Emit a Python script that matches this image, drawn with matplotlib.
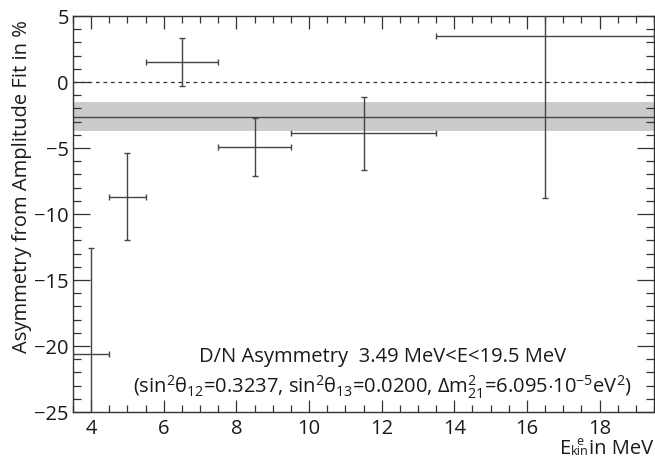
import matplotlib
matplotlib.use("Agg")
import matplotlib.pyplot as plt
from matplotlib.ticker import MultipleLocator

plt.rcParams['font.family'] = ['Open Sans', 'DejaVu Sans']
plt.rcParams['mathtext.fontset'] = 'custom'
plt.rcParams['mathtext.rm'] = 'Open Sans'
plt.rcParams['mathtext.it'] = 'Open Sans'
plt.rcParams['mathtext.sf'] = 'Open Sans'

# Energy bins (MeV): centres and half widths
energy = [4.0, 5.0, 6.5, 8.5, 11.5, 16.5]
energy_halfwidth = [0.5, 0.5, 1.0, 1.0, 2.0, 3.0]
# Day/Night asymmetry per bin (%) and its uncertainty
asym = [-20.6, -8.7, 1.5, -4.9, -3.9, 3.5]
asym_err = [8.0, 3.3, 1.8, 2.2, 2.75, 12.3]
# Combined fit over the full energy range
combined = -2.65
combined_err = 1.1

xmin, xmax = 3.5, 19.5
ymin, ymax = -25, 5
fs = 14.5
txt = '#1a1a1a'

W, H = 655, 460
fig = plt.figure(figsize=(W / 100, H / 100), dpi=100)
ax = fig.add_axes([0.1115, 0.1022, 0.887, 0.861])

ax.axhspan(combined - combined_err, combined + combined_err, color='#cbcbcb', lw=0, zorder=1)
ax.axhline(combined, color='#444444', lw=1.0, zorder=2)
ax.axhline(0, color='#333333', lw=0.9, ls=(0, (3, 3)), zorder=2)

ax.errorbar(energy, asym, xerr=energy_halfwidth, yerr=asym_err, fmt='none',
            ecolor='#444444', elinewidth=1.0, capsize=2.5, capthick=1.0, zorder=3)

ax.set_xlim(xmin, xmax)
ax.set_ylim(ymin, ymax)
ax.xaxis.set_major_locator(MultipleLocator(2))
ax.xaxis.set_minor_locator(MultipleLocator(0.5))
ax.yaxis.set_major_locator(MultipleLocator(5))
ax.yaxis.set_minor_locator(MultipleLocator(1))
ax.tick_params(axis='both', which='both', direction='in', top=True, right=True,
               color='#333333', width=0.9, labelsize=fs, labelcolor=txt)
ax.tick_params(axis='x', which='major', length=9, pad=4)
ax.tick_params(axis='x', which='minor', length=5)
ax.tick_params(axis='y', which='major', length=12, pad=3)
ax.tick_params(axis='y', which='minor', length=6)
for s in ax.spines.values():
    s.set_color('#333333')
    s.set_linewidth(1.0)

ax.set_ylabel('Asymmetry from Amplitude Fit in %', fontsize=fs, color=txt)
ax.yaxis.set_label_coords(-0.071, 0.992)
ax.yaxis.label.set_horizontalalignment('right')

# x-axis title: "E" with a compact stacked e / kin index, then "in MeV"
renderer = fig.canvas.get_renderer()
small = fs * 0.62
t_E = fig.text(0, 0, 'E', fontsize=fs, color=txt, va='baseline', ha='left')
t_idx = fig.text(0, 0, 'e\nkin', fontsize=small, color=txt, va='bottom', ha='left',
                 multialignment='center', linespacing=0.72)
t_rest = fig.text(0, 0, 'in MeV', fontsize=fs, color=txt, va='baseline', ha='left')
wE = t_E.get_window_extent(renderer).width
wI = t_idx.get_window_extent(renderer).width
wR = t_rest.get_window_extent(renderer).width
right_px = 653
x0 = right_px - (wE + wI + wR)
base_main = H - 454
t_E.set_position((x0 / W, base_main / H))
t_idx.set_position(((x0 + wE) / W, (H - 458) / H))
t_rest.set_position(((x0 + wE + wI) / W, base_main / H))

ax.text(0.532, 0.142, 'D/N Asymmetry  3.49 MeV<E<19.5 MeV', transform=ax.transAxes,
        ha='center', va='center', fontsize=fs, color=txt)
ax.text(0.532, 0.064,
        r'(sin$^{2}\theta_{12}$=0.3237, sin$^{2}\theta_{13}$=0.0200, $\Delta$m$^{2}_{21}$=6.095$\cdot$10$^{-5}$eV$^{2}$)',
        transform=ax.transAxes, ha='center', va='center', fontsize=fs, color=txt)

fig.savefig('out.png', dpi=100)
